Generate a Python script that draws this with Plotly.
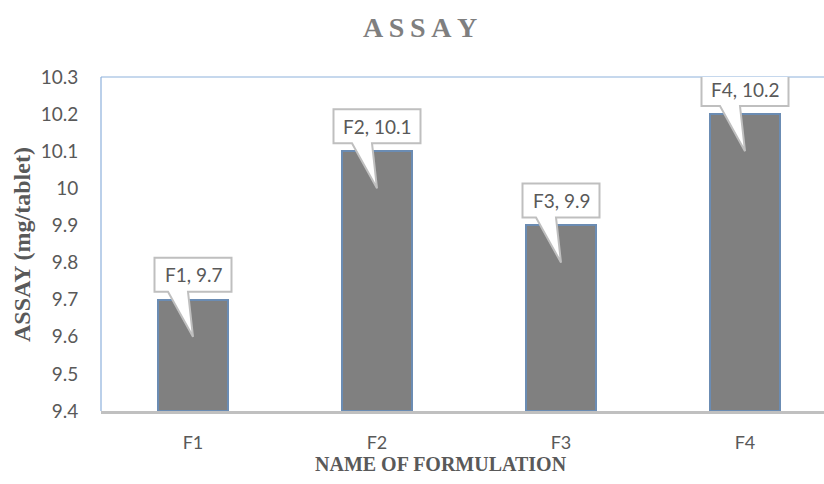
import plotly.graph_objects as go

categories = ["F1", "F2", "F3", "F4"]
assay = [9.7, 10.1, 9.9, 10.2]
y_ticks = [9.4, 9.5, 9.6, 9.7, 9.8, 9.9, 10, 10.1, 10.2, 10.3]
y_tick_text = ["9.4", "9.5", "9.6", "9.7", "9.8", "9.9", "10", "10.1", "10.2", "10.3"]
labels = [f"{c}, {v:g}" for c, v in zip(categories, assay)]

W, H = 824, 484
L, R, T, B = 101, 0, 77, 73
y_min, y_max = 9.4, 10.3
px_per_unit = (H - T - B) / (y_max - y_min)

fig = go.Figure()
fig.add_trace(go.Bar(
    x=list(range(len(categories))), y=[v - y_min for v in assay], base=y_min,
    width=0.38,
    marker=dict(color="#808080", line=dict(color="#6b8cb3", width=2)),
    hoverinfo="skip", showlegend=False,
))

shapes = []
annotations = []
for i, (v, lab) in enumerate(zip(assay, labels)):
    w = 10 * len(lab) + 7
    gap, bh = 8, 34
    tip = -0.1 * px_per_unit
    path = (f"M {-w/2},{gap} L -25,{gap} L 0,{tip} L -5,{gap} L {w/2},{gap} "
            f"L {w/2},{gap+bh} L {-w/2},{gap+bh} Z")
    shapes.append(dict(type="path", xref="x", yref="y", xsizemode="pixel", ysizemode="pixel",
                       xanchor=i, yanchor=v, path=path,
                       fillcolor="white", line=dict(color="#bfbfbf", width=2), layer="above"))
    annotations.append(dict(x=i, y=v, xref="x", yref="y", text=lab, showarrow=False,
                            yshift=gap + bh / 2, font=dict(family="Lato", size=19, color="#595959")))

# plot-area outline (top and left)
shapes.append(dict(type="line", xref="paper", yref="paper", x0=0, x1=1, y0=1, y1=1,
                   line=dict(color="#8eb1dc", width=1.2), layer="below"))
shapes.append(dict(type="line", xref="paper", yref="paper", x0=0, x1=0, y0=0, y1=1,
                   line=dict(color="#8eb1dc", width=1.2), layer="below"))

annotations.append(dict(xref="paper", yref="paper", x=(419.5 - L) / (W - L - R), y=(H - 27 - B) / (H - T - B),
                        text="<b>A\u2009S\u2009S\u2009A\u2009Y</b>", showarrow=False, xanchor="center", yanchor="middle",
                        font=dict(family="Liberation Serif", size=28, color="#7f7f7f")))
annotations.append(dict(xref="paper", yref="paper", x=(441 - L) / (W - L - R), y=(H - 464 - B) / (H - T - B),
                        text="<b>NAME OF FORMULATION</b>", showarrow=False, xanchor="center", yanchor="middle",
                        font=dict(family="Liberation Serif", size=20, color="#595959")))
annotations.append(dict(xref="paper", yref="paper", x=(22 - L) / (W - L - R), y=(H - 245 - B) / (H - T - B),
                        text="<b>ASSAY (mg/tablet)</b>", showarrow=False, xanchor="center", yanchor="middle",
                        textangle=-90, font=dict(family="Liberation Serif", size=24, color="#595959")))

fig.update_layout(
    width=W, height=H, margin=dict(l=L, r=R, t=T, b=B),
    paper_bgcolor="white", plot_bgcolor="white",
    shapes=shapes, annotations=annotations, bargap=0,
    xaxis=dict(range=[-0.5, -0.5 + (W - L - R) / 184], tickvals=list(range(len(categories))),
               ticktext=categories, showgrid=False, zeroline=False,
               showline=True, linecolor="#c0c0c0", linewidth=3,
               ticks="outside", ticklen=13, tickcolor="rgba(0,0,0,0)",
               tickfont=dict(family="Lato", size=18, color="#595959"), fixedrange=True),
    yaxis=dict(range=[y_min, y_max], tickvals=y_ticks, ticktext=y_tick_text,
               showgrid=False, zeroline=False, showline=False,
               ticks="outside", ticklen=18, tickcolor="rgba(0,0,0,0)",
               tickfont=dict(family="Lato", size=19, color="#595959"), fixedrange=True),
)

fig.write_html("out.html", config={"displayModeBar": False},
               post_script="document.body.style.margin='0';document.body.style.overflow='hidden';")
